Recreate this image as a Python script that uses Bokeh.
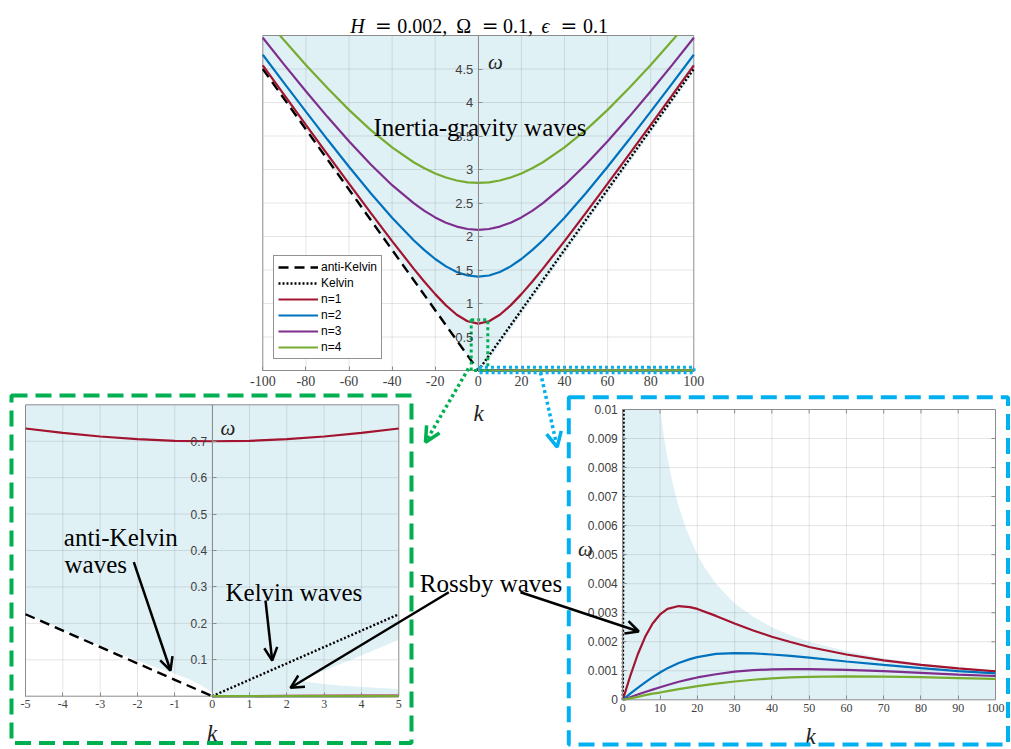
import math
from bokeh.plotting import figure
from bokeh.models import (Range1d, LinearAxis, FixedTicker, CustomJSTickFormatter,
                          Arrow, OpenHead, Legend, LegendItem)
from bokeh.embed import file_html
from bokeh.resources import INLINE
from bokeh.core.properties import value

# ------------------------------------------------------------------ data
title_parts = ["H", "=", "0.002,", "Ω", "=", "0.1,", "ϵ", "=", "0.1"]

# main panel
top_xlim = (-100, 100)
top_ylim = (0, 5)
top_xticks = [-100, -80, -60, -40, -20, 0, 20, 40, 60, 80, 100]
top_yticks = [0.5, 1, 1.5, 2, 2.5, 3, 3.5, 4, 4.5]

k_ig = [-100, -90, -80, -70, -60, -50, -40, -30, -25, -20, -15, -10, -5, 0,
        5, 10, 15, 20, 25, 30, 40, 50, 60, 70, 80, 90, 100]
ig_n1 = [4.554, 4.110, 3.667, 3.227, 2.789, 2.356, 1.931, 1.521, 1.325, 1.140, 0.972, 0.832, 0.735, 0.700,
         0.735, 0.832, 0.972, 1.140, 1.325, 1.521, 1.931, 2.356, 2.789, 3.227, 3.667, 4.110, 4.554]
ig_n2 = [4.713, 4.285, 3.863, 3.447, 3.041, 2.650, 2.280, 1.945, 1.796, 1.664, 1.554, 1.471, 1.418, 1.400,
         1.418, 1.471, 1.554, 1.664, 1.796, 1.945, 2.280, 2.650, 3.041, 3.447, 3.863, 4.285, 4.713]
ig_n3 = [4.966, 4.562, 4.168, 3.786, 3.421, 3.078, 2.766, 2.497, 2.382, 2.285, 2.206, 2.148, 2.112, 2.100,
         2.112, 2.148, 2.206, 2.285, 2.382, 2.497, 2.766, 3.078, 3.421, 3.786, 4.168, 4.562, 4.966]
ig_n4 = [5.300, 4.924, 4.561, 4.215, 3.890, 3.592, 3.329, 3.108, 3.018, 2.941, 2.880, 2.836, 2.809, 2.800,
         2.809, 2.836, 2.880, 2.941, 3.018, 3.108, 3.329, 3.592, 3.890, 4.215, 4.561, 4.924, 5.300]

kelvin_k = [0, 100]
kelvin_w = [0, 4.5]
anti_k = [-100, 0]
anti_w = [4.5, 0]

# zoom on the inertia-gravity gap
bl_xlim = (-5, 5)
bl_ylim = (0, 0.8)
bl_xticks = [-5, -4, -3, -2, -1, 0, 1, 2, 3, 4, 5]
bl_yticks = [0.1, 0.2, 0.3, 0.4, 0.5, 0.6, 0.7]
k_zoom = [-5, -4, -3, -2, -1, 0, 1, 2, 3, 4, 5]
n1_zoom = [0.735, 0.723, 0.713, 0.706, 0.701, 0.700, 0.701, 0.706, 0.713, 0.723, 0.735]

# zoom on the Rossby waves
br_xlim = (0, 100)
br_ylim = (0, 0.01)
br_xticks = [0, 10, 20, 30, 40, 50, 60, 70, 80, 90, 100]
br_yticks = [0, 0.001, 0.002, 0.003, 0.004, 0.005, 0.006, 0.007, 0.008, 0.009, 0.01]
k_r = [0, 2, 4, 6, 8, 10, 12, 15, 18, 20, 25, 30, 35, 40, 45, 50, 60, 70, 80, 90, 100]
rossby_n1 = [0, 0.00082, 0.00156, 0.00217, 0.00263, 0.00294, 0.00313, 0.00323, 0.00319, 0.00313, 0.00289,
             0.00263, 0.00239, 0.00217, 0.00199, 0.00182, 0.00156, 0.00136, 0.00120, 0.00108, 0.00098]
rossby_n2 = [0, 0.00021, 0.00041, 0.00060, 0.00078, 0.00094, 0.00109, 0.00127, 0.00140, 0.00147, 0.00158,
             0.00161, 0.00160, 0.00156, 0.00151, 0.00145, 0.00132, 0.00120, 0.00109, 0.00099, 0.00091]
rossby_n3 = [0, 0.00009, 0.00018, 0.00027, 0.00035, 0.00043, 0.00051, 0.00062, 0.00071, 0.00077, 0.00088,
             0.00097, 0.00102, 0.00105, 0.00106, 0.00106, 0.00103, 0.00099, 0.00093, 0.00087, 0.00082]
rossby_n4 = [0, 0.00005, 0.00010, 0.00016, 0.00021, 0.00025, 0.00030, 0.00037, 0.00043, 0.00047, 0.00056,
             0.00063, 0.00069, 0.00074, 0.00077, 0.00079, 0.00081, 0.00080, 0.00078, 0.00075, 0.00072]

# shaded regions: upper bound of Rossby waves, lower bound of inertia-gravity waves
rb_k = [0, 0.1, 0.5, 1, 1.5, 2, 2.5, 3, 3.5, 4, 4.5, 5, 6, 7, 8, 9, 10, 11, 12, 13, 14, 15, 17, 20,
        22, 25, 30, 35, 40, 45, 50, 60, 70, 80, 90, 100]
rb_w = [1.0, 1.0, 0.2, 0.1, 0.0667, 0.05, 0.04, 0.0333, 0.0286, 0.025, 0.0222, 0.02, 0.0167, 0.0143,
        0.0125, 0.0111, 0.01, 0.00909, 0.00833, 0.00769, 0.00714, 0.00667, 0.00588, 0.005, 0.00455,
        0.004, 0.00333, 0.00286, 0.0025, 0.00222, 0.002, 0.00167, 0.00143, 0.00125, 0.00111, 0.001]
igl_k = [-100, -5, -3, -2, -1.5, -1, -0.6, -0.3, 0, 1, 2.4, 3, 4, 5, 100]
igl_w = [4.5, 0.226, 0.139, 0.097, 0.079, 0.062, 0.046, 0.03, 0.01, 0.03, 0.044, 0.07, 0.112, 0.155, 4.445]

legend_labels = ["anti-Kelvin", "Kelvin", "n=1", "n=2", "n=3", "n=4"]

# ------------------------------------------------------------------ styles
C1, C2, C3, C4 = "#A2142F", "#0072BD", "#7E2F8E", "#77AC30"
FILL = "#E0F1F6"
GREEN, CYAN = "#00B050", "#00B0F0"
BOXC = "#8c8c8c"
TICKC = "#404040"
SERIF, SANS = "Liberation Serif", "Liberation Sans"

W, H = 1010, 748
OX, OY = 0, 0

p = figure(width=W, height=H, x_range=Range1d(OX, OX + W), y_range=Range1d(OY + H, OY),
           output_backend="svg", toolbar_location=None, min_border=0,
           x_axis_location=None, y_axis_location=None, outline_line_color=None)
p.grid.visible = False
p.background_fill_color = "white"
p.border_fill_color = "white"

PANELS = {
    "T": dict(xlim=top_xlim, ylim=top_ylim, px=(262.3, 693.3), py=(370.0, 35.0)),
    "L": dict(xlim=bl_xlim, ylim=bl_ylim, px=(25.0, 398.3), py=(695.7, 404.3)),
    "R": dict(xlim=br_xlim, ylim=br_ylim, px=(622.3, 995.0), py=(699.3, 409.0)),
}
xr, yr = {}, {}
for name, P in PANELS.items():
    (d0, d1), (p0, p1) = P["xlim"], P["px"]
    s = (p1 - p0) / (d1 - d0)
    P["sx"] = s
    xs0 = d0 - (p0 - OX) / s
    xr[name] = Range1d(xs0, xs0 + W / s)
    (e0, e1), (q0, q1) = P["ylim"], P["py"]
    t = (q0 - q1) / (e1 - e0)
    P["sy"] = t
    ys0 = e0 - (OY + H - q0) / t
    yr[name] = Range1d(ys0, ys0 + H / t)
p.extra_x_ranges = xr
p.extra_y_ranges = yr


def box_of(name):
    P = PANELS[name]
    return (P["xlim"][0], P["xlim"][1], P["ylim"][0], P["ylim"][1])


def clip_seg(ax, ay, bx, by, box):
    x0, x1, y0, y1 = box
    dx, dy = bx - ax, by - ay
    t0, t1 = 0.0, 1.0
    for pk, qk in ((-dx, ax - x0), (dx, x1 - ax), (-dy, ay - y0), (dy, y1 - ay)):
        if pk == 0:
            if qk < 0:
                return None
        else:
            tt = qk / pk
            if pk < 0:
                if tt > t1:
                    return None
                t0 = max(t0, tt)
            else:
                if tt < t0:
                    return None
                t1 = min(t1, tt)
    return (ax + t0 * dx, ay + t0 * dy, ax + t1 * dx, ay + t1 * dy)


def clip_polyline(xs, ys, box):
    pieces, cx, cy = [], [], []
    for i in range(len(xs) - 1):
        sgm = clip_seg(xs[i], ys[i], xs[i + 1], ys[i + 1], box)
        if sgm is None:
            if cx:
                pieces.append((cx, cy))
                cx, cy = [], []
            continue
        if cx and math.isclose(cx[-1], sgm[0], abs_tol=1e-9) and math.isclose(cy[-1], sgm[1], abs_tol=1e-12):
            cx.append(sgm[2]); cy.append(sgm[3])
        else:
            if cx:
                pieces.append((cx, cy))
            cx, cy = [sgm[0], sgm[2]], [sgm[1], sgm[3]]
    if cx:
        pieces.append((cx, cy))
    return pieces


def clip_polygon(pts, box):
    x0, x1, y0, y1 = box

    def edge(pts, inside, cross):
        out = []
        for i in range(len(pts)):
            a, b = pts[i - 1], pts[i]
            ia, ib = inside(a), inside(b)
            if ib:
                if not ia:
                    out.append(cross(a, b))
                out.append(b)
            elif ia:
                out.append(cross(a, b))
        return out

    def at_x(a, b, x):
        tt = (x - a[0]) / (b[0] - a[0])
        return (x, a[1] + tt * (b[1] - a[1]))

    def at_y(a, b, y):
        tt = (y - a[1]) / (b[1] - a[1])
        return (a[0] + tt * (b[0] - a[0]), y)

    for inside, cross in ((lambda q: q[0] >= x0, lambda a, b: at_x(a, b, x0)),
                          (lambda q: q[0] <= x1, lambda a, b: at_x(a, b, x1)),
                          (lambda q: q[1] >= y0, lambda a, b: at_y(a, b, y0)),
                          (lambda q: q[1] <= y1, lambda a, b: at_y(a, b, y1))):
        if not pts:
            break
        pts = edge(pts, inside, cross)
    return pts


def pline(name, xs, ys, **kw):
    pieces = clip_polyline(xs, ys, box_of(name))
    if not pieces:
        return None
    return p.multi_line([a for a, b in pieces], [b for a, b in pieces],
                        x_range_name=name, y_range_name=name, **kw)


def pfill(name, pts):
    c = clip_polygon(pts, box_of(name))
    if len(c) >= 3:
        p.patch([q[0] for q in c], [q[1] for q in c], x_range_name=name, y_range_name=name,
                fill_color=FILL, line_color=None)


def pgrid(name, xt, yt, box_ticks=False):
    x0, x1, y0, y1 = box_of(name)
    gx = [v for v in xt if x0 < v < x1]
    gy = [v for v in yt if y0 < v < y1]
    p.segment(x0=gx, y0=[y0] * len(gx), x1=gx, y1=[y1] * len(gx), x_range_name=name, y_range_name=name,
              line_color="#262626", line_alpha=0.12, line_width=1)
    p.segment(x0=[x0] * len(gy), y0=gy, x1=[x1] * len(gy), y1=gy, x_range_name=name, y_range_name=name,
              line_color="#262626", line_alpha=0.12, line_width=1)
    p.quad(left=x0, right=x1, bottom=y0, top=y1, x_range_name=name, y_range_name=name,
           fill_color=None, line_color=BOXC, line_width=1)
    if box_ticks:
        P = PANELS[name]
        dx, dy = 4 / P["sx"], 4 / P["sy"]
        p.segment(x0=gx, y0=[y1] * len(gx), x1=gx, y1=[y1 - dy] * len(gx), x_range_name=name,
                  y_range_name=name, line_color=BOXC, line_width=1)
        p.segment(x0=[x1] * len(gy), y0=gy, x1=[x1 - dx] * len(gy), y1=gy, x_range_name=name,
                  y_range_name=name, line_color=BOXC, line_width=1)


FMT = "return tick.toString()"


def paxes(name, xt, yt, ycross, xsize, ysize, xstand, ystand):
    x0, x1, y0, y1 = box_of(name)
    xa = LinearAxis(x_range_name=name, y_range_name=name, fixed_location=y0, bounds=(x0, x1),
                    ticker=FixedTicker(ticks=xt), formatter=CustomJSTickFormatter(code=FMT),
                    axis_line_color=None, major_tick_line_color=BOXC, major_tick_in=4, major_tick_out=0,
                    minor_tick_line_color=None, major_label_standoff=xstand,
                    major_label_text_font=SERIF, major_label_text_font_size=xsize,
                    major_label_text_color=TICKC)
    p.add_layout(xa, "below")
    ya = LinearAxis(x_range_name=name, y_range_name=name, fixed_location=ycross, bounds=(y0, y1),
                    ticker=FixedTicker(ticks=yt), formatter=CustomJSTickFormatter(code=FMT),
                    axis_line_color=BOXC, major_tick_line_color=BOXC, major_tick_in=4, major_tick_out=0,
                    minor_tick_line_color=None, major_label_standoff=ystand,
                    major_label_text_font=SANS, major_label_text_font_size=ysize,
                    major_label_text_color=TICKC)
    p.add_layout(ya, "left")


ig_poly = list(zip(igl_k, igl_w)) + [(igl_k[-1], top_ylim[1]), (igl_k[0], top_ylim[1])]
rb_poly = [(rb_k[0], 0)] + list(zip(rb_k, rb_w)) + [(rb_k[-1], 0)]

LW = 2.2
DASH = "10 6"
DOT = "2 2"
leg_r = []
for name in ("T", "L", "R"):
    pfill(name, ig_poly)
    pfill(name, rb_poly)
    if name == "T":
        pgrid(name, top_xticks, top_yticks)
    elif name == "L":
        pgrid(name, bl_xticks, bl_yticks)
    else:
        pgrid(name, br_xticks, br_yticks, box_ticks=True)
    ra = pline(name, anti_k, anti_w, line_color="black", line_width=2.4, line_dash=DASH)
    rk = pline(name, kelvin_k, kelvin_w, line_color="black", line_width=2.4, line_dash=DOT)
    if name == "L":
        r1 = pline(name, k_zoom, n1_zoom, line_color=C1, line_width=LW)
    else:
        r1 = pline(name, k_ig, ig_n1, line_color=C1, line_width=LW)
        r2 = pline(name, k_ig, ig_n2, line_color=C2, line_width=LW)
        r3 = pline(name, k_ig, ig_n3, line_color=C3, line_width=LW)
        r4 = pline(name, k_ig, ig_n4, line_color=C4, line_width=LW)
    pline(name, k_r, rossby_n1, line_color=C1, line_width=LW)
    pline(name, k_r, rossby_n2, line_color=C2, line_width=LW)
    pline(name, k_r, rossby_n3, line_color=C3, line_width=LW)
    pline(name, k_r, rossby_n4, line_color=C4, line_width=LW)
    if name == "T":
        leg_r = [ra, rk, r1, r2, r3, r4]

paxes("T", top_xticks, top_yticks, 0, "14px", "13px", 5, 5)
paxes("L", bl_xticks, bl_yticks, 0, "12px", "12px", 4, 5)
paxes("R", br_xticks, br_yticks, 0, "12px", "12px", 4, 5)

legend = Legend(items=[LegendItem(label=l, renderers=[r]) for l, r in zip(legend_labels, leg_r)],
                location=(273, H - 359), orientation="vertical",
                label_text_font=SANS, label_text_font_size="12px", label_text_color="black",
                glyph_width=40, glyph_height=14, label_height=14, spacing=2, padding=4, margin=0,
                label_standoff=3, border_line_color="#262626", border_line_width=1,
                background_fill_color="white", background_fill_alpha=1.0)
p.add_layout(legend)

# ------------------------------------------------------------------ texts
tx = [357, 383, 421.7, 463.3, 489.7, 517.5, 545, 568.3, 595]
tfont = [SERIF, "DejaVu Serif", SERIF, SERIF, "DejaVu Serif", SERIF, SERIF, "DejaVu Serif", SERIF]
tstyle = ["italic", "normal", "normal", "normal", "normal", "normal", "italic", "normal", "normal"]
for x, s_, f, st in zip(tx, title_parts, tfont, tstyle):
    p.text(x=[x], y=[25.5], text=[s_], text_font=value(f), text_font_style=st, text_font_size="20px",
           text_align="center", text_baseline="alphabetic", text_color="black")

# axis names
p.text(x=[478, 211.7, 810], y=[412.7, 733, 736], text=["k", "k", "k"], text_font=value(SERIF),
       text_font_style="italic", text_font_size="23px", text_align="center", text_baseline="alphabetic",
       text_color="#222222")
p.text(x=[495, 227.5, 585], y=[61.7, 427.7, 548], text=["ω", "ω", "ω"], text_font=value(SERIF),
       text_font_style="italic", text_font_size="21px", text_align="center", text_baseline="alphabetic",
       text_color="#222222")

# annotation texts
p.text(x=[373, 63.3, 64, 225, 419.3], y=[126.7, 536.7, 564, 592, 583],
       text=["Inertia-gravity waves", "anti-Kelvin", "waves", "Kelvin waves", "Rossby waves"],
       text_font=value(SERIF), text_font_size="25px", text_align="left", text_baseline="alphabetic",
       text_color="black")

# black arrows
for xa_, ya_, xb_, yb_ in [(133.3, 561.7, 170, 670), (265, 600, 271.7, 660),
                           (448.3, 591.7, 290, 687.3), (520, 591.7, 638.3, 631)]:
    p.add_layout(Arrow(x_start=xa_, y_start=ya_, x_end=xb_, y_end=yb_, line_width=2.5, line_color="black",
                       end=OpenHead(size=13, line_width=2.5, line_color="black")))

# zoom boxes and connecting arrows
p.quad(left=470.7, right=487.3, top=319.3, bottom=370, fill_color=None, line_color=GREEN,
       line_width=3, line_dash="3 3")
p.quad(left=478.5, right=693.5, top=366.7, bottom=372.3, fill_color=None, line_color=CYAN,
       line_width=3, line_dash="3 3")
p.add_layout(Arrow(x_start=468, y_start=368, x_end=425, y_end=441.7, line_width=3.5, line_color=GREEN,
                   line_dash="3 3", end=OpenHead(size=15, line_width=3.5, line_color=GREEN)))
p.add_layout(Arrow(x_start=540, y_start=372, x_end=556.7, y_end=446.7, line_width=3.5, line_color=CYAN,
                   line_dash="3 3", end=OpenHead(size=15, line_width=3.5, line_color=CYAN)))
p.quad(left=11, right=411, top=395, bottom=742.5, fill_color=None, line_color=GREEN,
       line_width=4, line_dash="16 8")
p.quad(left=568.3, right=1007.5, top=396.7, bottom=744, fill_color=None, line_color=CYAN,
       line_width=4, line_dash="16 8")

open("out.html", "w").write(file_html(p, INLINE, title="dispersion"))
